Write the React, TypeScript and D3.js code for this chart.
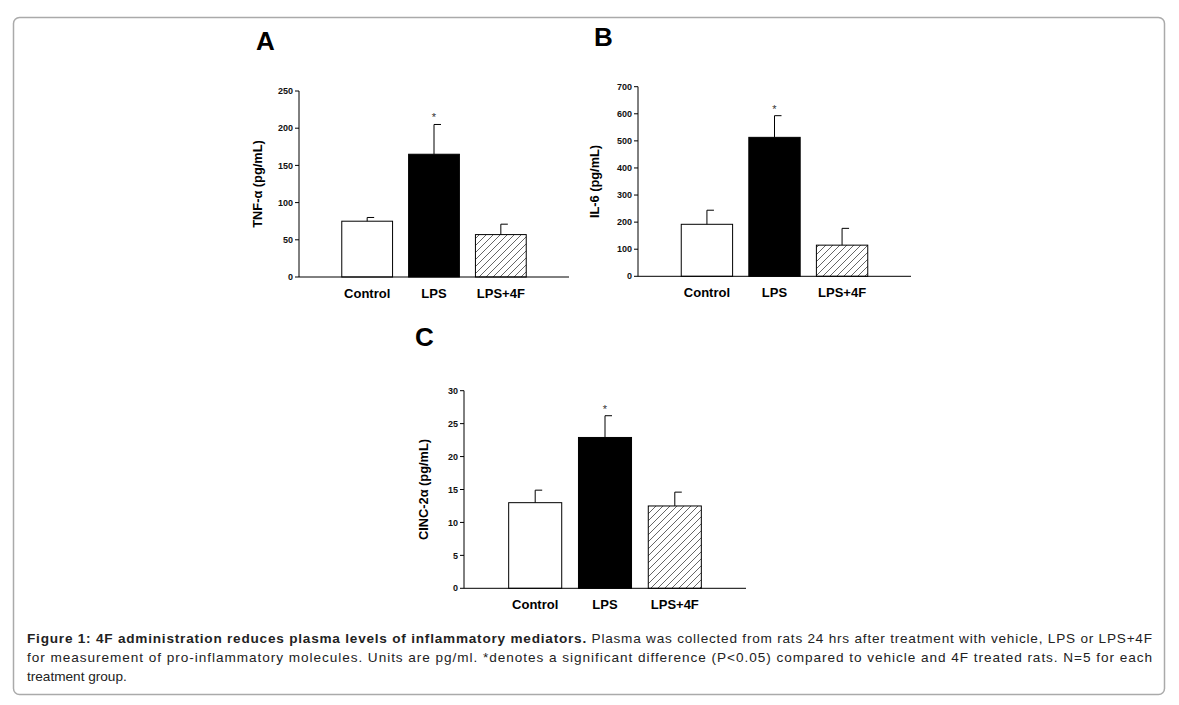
import * as d3 from "d3";

const categories = ["Control", "LPS", "LPS+4F"];

const tnfMeans = [75, 165, 57];
const tnfErrors = [5, 40, 14];
const tnfTicks = [0, 50, 100, 150, 200, 250];

const il6Means = [192, 513, 115];
const il6Errors = [52, 80, 62];
const il6Ticks = [0, 100, 200, 300, 400, 500, 600, 700];

const cincMeans = [13, 22.9, 12.5];
const cincErrors = [1.9, 3.3, 2.1];
const cincTicks = [0, 5, 10, 15, 20, 25, 30];

const significant = [false, true, false];

const FONT = "'Liberation Sans', Arial, Helvetica, sans-serif";
const fills = ["#ffffff", "#000000", "url(#hatch)"];

type PanelProps = {
  letter: string;
  letterX: number;
  letterY: number;
  title: string;
  titleX: number;
  means: number[];
  errors: number[];
  ticks: number[];
  x0: number;
  x1: number;
  yTop: number;
  yBottom: number;
};

function Panel(p: PanelProps) {
  const x = d3
    .scaleBand<string>()
    .domain(categories)
    .range([p.x0, p.x1])
    .paddingInner(0.24)
    .paddingOuter(0.64);
  const y = d3
    .scaleLinear()
    .domain([0, p.ticks[p.ticks.length - 1]])
    .range([p.yBottom, p.yTop]);
  const bw = x.bandwidth();

  return (
    <g fontFamily={FONT}>
      <text x={p.letterX} y={p.letterY} fontSize={26} fontWeight="bold">
        {p.letter}
      </text>
      {/* y title */}
      <text
        transform={`translate(${p.titleX},${(p.yTop + p.yBottom) / 2}) rotate(-90)`}
        textAnchor="middle"
        dy="0.35em"
        fontSize={12.8}
        fontWeight="bold"
      >
        {p.title}
      </text>
      {/* bars */}
      {p.means.map((m, i) => {
        const bx = x(categories[i])!;
        const cx = bx + bw / 2;
        const top = y(m);
        const errTop = y(m + p.errors[i]);
        return (
          <g key={i}>
            <rect
              x={bx}
              y={top}
              width={bw}
              height={p.yBottom - top}
              fill={fills[i]}
              stroke="#000"
              strokeWidth={1}
            />
            <line x1={cx} x2={cx} y1={top} y2={errTop} stroke="#000" />
            <line x1={cx} x2={cx + 7} y1={errTop} y2={errTop} stroke="#000" />
            {significant[i] && (
              <text
                x={cx}
                y={errTop - 3}
                textAnchor="middle"
                fontSize={11}
                fill="#333"
              >
                *
              </text>
            )}
          </g>
        );
      })}
      {/* axes */}
      <line x1={p.x0} x2={p.x0} y1={p.yTop} y2={p.yBottom} stroke="#000" />
      <line x1={p.x0} x2={p.x1} y1={p.yBottom} y2={p.yBottom} stroke="#000" />
      {p.ticks.map((t) => (
        <g key={t}>
          <line
            x1={p.x0 - 4}
            x2={p.x0}
            y1={y(t)}
            y2={y(t)}
            stroke="#000"
          />
          <text
            x={p.x0 - 6}
            y={y(t)}
            dy="0.35em"
            textAnchor="end"
            fontSize={9}
            fontWeight="bold"
            fill="#111"
          >
            {t}
          </text>
        </g>
      ))}
      {categories.map((c) => (
        <text
          key={c}
          x={x(c)! + bw / 2}
          y={p.yBottom + 21}
          textAnchor="middle"
          fontSize={13}
          fontWeight="bold"
        >
          {c}
        </text>
      ))}
    </g>
  );
}

export default function App() {
  return (
    <>
      <style>{`body{margin:0}`}</style>
      <svg width={1179} height={705} style={{ display: "block", background: "#fff" }}>
        <defs>
          <pattern id="hatch" patternUnits="userSpaceOnUse" width={7} height={7}>
            <rect width={7} height={7} fill="#fff" />
            <path
              d="M0,7 L7,0 M-1.5,1.5 L1.5,-1.5 M5.5,8.5 L8.5,5.5"
              stroke="#666"
              strokeWidth={1}
            />
          </pattern>
        </defs>
        <rect
          x={13.5}
          y={17.5}
          width={1151}
          height={677}
          rx={6}
          fill="none"
          stroke="#aaa"
          strokeWidth={1.5}
        />
        <Panel
          letter="A"
          letterX={256}
          letterY={50}
          title="TNF-α (pg/mL)"
          titleX={258}
          means={tnfMeans}
          errors={tnfErrors}
          ticks={tnfTicks}
          x0={299}
          x1={569}
          yTop={91}
          yBottom={277}
        />
        <Panel
          letter="B"
          letterX={594}
          letterY={46}
          title="IL-6 (pg/mL)"
          titleX={595}
          means={il6Means}
          errors={il6Errors}
          ticks={il6Ticks}
          x0={638}
          x1={911}
          yTop={86.7}
          yBottom={276.3}
        />
        <Panel
          letter="C"
          letterX={415}
          letterY={346}
          title="CINC-2α (pg/mL)"
          titleX={424}
          means={cincMeans}
          errors={cincErrors}
          ticks={cincTicks}
          x0={464}
          x1={746}
          yTop={390.7}
          yBottom={588.3}
        />
        <g fontFamily={FONT} fontSize={13.6} fill="#222">
          <text x={27} y={643} textLength={1125} lengthAdjust="spacing">
            <tspan fontWeight="bold">
              Figure 1: 4F administration reduces plasma levels of inflammatory mediators.
            </tspan>
            <tspan> Plasma was collected from rats 24 hrs after treatment with vehicle, LPS or LPS+4F</tspan>
          </text>
          <text x={27} y={662} textLength={1125} lengthAdjust="spacing">
            for measurement of pro-inflammatory molecules. Units are pg/ml. *denotes a significant difference (P&lt;0.05) compared to vehicle and 4F treated rats. N=5 for each
          </text>
          <text x={27} y={681}>
            treatment group.
          </text>
        </g>
      </svg>
    </>
  );
}
